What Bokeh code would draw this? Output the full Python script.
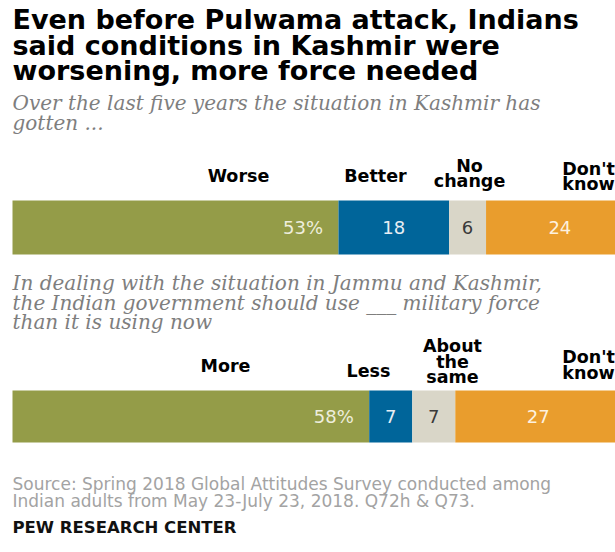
from bokeh.plotting import figure
from bokeh.models import Range1d, Label, ColumnDataSource
from bokeh.core.properties import value
from bokeh.embed import file_html
from bokeh.resources import INLINE

# ---------------- data ----------------
categories_q1 = ["Worse", "Better", "No change", "Don't know"]
values_q1 = [53, 18, 6, 24]
value_labels_q1 = ["53%", "18", "6", "24"]

categories_q2 = ["More", "Less", "About the same", "Don't know"]
values_q2 = [58, 7, 7, 27]
value_labels_q2 = ["58%", "7", "7", "27"]

title_lines = ["Even before Pulwama attack, Indians",
               "said conditions in Kashmir were",
               "worsening, more force needed"]
subtitle_q1 = ["Over the last five years the situation in Kashmir has",
               "gotten ..."]
subtitle_q2 = ["In dealing with the situation in Jammu and Kashmir,",
               "the Indian government should use ___ military force",
               "than it is using now"]
source_lines = ["Source: Spring 2018 Global Attitudes Survey conducted among",
                "Indian adults from May 23-July 23, 2018. Q72h & Q73."]
brand = "PEW RESEARCH CENTER"

# ---------------- layout / style ----------------
W, H = 615, 552
OFFSET = 0          # page offset of the figure
PX_PER_PCT = 6.15
X0 = 12 - OFFSET    # screen px of 0%

seg_colors = ["#949c48", "#00659a", "#d9d6c8", "#e99d2d"]
val_colors = ["#eeeedd", "#e8eef4", "#3a3a3a", "#fdf1df"]

p = figure(width=W, height=H, output_backend="svg", toolbar_location=None,
           x_range=Range1d(-X0 / PX_PER_PCT, (W - X0) / PX_PER_PCT),
           y_range=Range1d(H, 0), min_border=0,
           x_axis_location=None, y_axis_location=None)
p.grid.visible = False
p.outline_line_color = None
p.background_fill_color = "white"
p.border_fill_color = "white"


def py(page_y):
    return page_y - OFFSET


def add_text(txt, page_x, page_y, size, color="#000000", font="DejaVu Sans",
             style="normal", align="left"):
    fs = float(size.replace("px", ""))
    p.add_layout(Label(x=page_x - OFFSET, y=py(page_y - 0.36 * fs),
                       x_units="screen", y_units="data",
                       text=txt, text_font=font, text_font_size=size,
                       text_font_style=style, text_color=color,
                       text_align=align, text_baseline="alphabetic"))


# title
for i, line in enumerate(title_lines):
    add_text(line, 12, 29 + 25.5 * i, "27px", "#000000", "DejaVu Sans", "bold")

# subtitles
for i, line in enumerate(subtitle_q1):
    add_text(line, 12, 110 + 20 * i, "20px", "#7e7e7e", "DejaVu Serif", "italic")
for i, line in enumerate(subtitle_q2):
    add_text(line, 12, 290 + 19.5 * i, "20px", "#7e7e7e", "DejaVu Serif", "italic")

# category labels (center x, baselines) for each bar
cat_pos_q1 = [(238, [182]), (375, [182]), (469, [172, 186.5]), (588, [175, 189.5])]
cat_lines_q1 = [["Worse"], ["Better"], ["No", "change"], ["Don't", "know"]]
cat_pos_q2 = [(225, [372]), (368, [377]), (452, [352, 367.5, 383]), (588, [363, 378.5])]
cat_lines_q2 = [["More"], ["Less"], ["About", "the", "same"], ["Don't", "know"]]

for pos, lines in list(zip(cat_pos_q1, cat_lines_q1)) + list(zip(cat_pos_q2, cat_lines_q2)):
    cx, ys = pos
    for ln, yy in zip(lines, ys):
        add_text(ln, cx, yy, "17.5px", "#000000", "DejaVu Sans", "bold", "center")


def draw_bar(values, labels, page_top, page_bottom):
    lefts, rights = [], []
    acc = 0
    for v in values:
        lefts.append(acc)
        acc += v
        rights.append(acc)
    yc = py((page_top + page_bottom) / 2)
    hgt = page_bottom - page_top
    src = ColumnDataSource(dict(left=lefts, right=rights, y=[yc] * len(values),
                                color=seg_colors))
    p.hbar(y="y", left="left", right="right", height=hgt, fill_color="color",
           line_color=None, source=src)
    # first value: right aligned inside the segment
    first = ColumnDataSource(dict(x=[rights[0] - 2.5], y=[yc], t=[labels[0]],
                                  c=[val_colors[0]]))
    p.text(x="x", y="y", text="t", text_color="c", source=first,
           text_font=value("DejaVu Sans"), text_font_size="18px",
           text_align="right", text_baseline="middle")
    rest = ColumnDataSource(dict(x=[(l + r) / 2 for l, r in zip(lefts[1:], rights[1:])],
                                 y=[yc] * (len(values) - 1), t=labels[1:],
                                 c=val_colors[1:]))
    p.text(x="x", y="y", text="t", text_color="c", source=rest,
           text_font=value("DejaVu Sans"), text_font_size="18px",
           text_align="center", text_baseline="middle")


draw_bar(values_q1, value_labels_q1, 200, 254)
draw_bar(values_q2, value_labels_q2, 390, 442)

# source & brand
for i, line in enumerate(source_lines):
    add_text(line, 12, 490 + 17 * i, "17px", "#a3a3a3", "DejaVu Sans")
add_text(brand, 12, 533, "16.5px", "#111111", "DejaVu Sans", "bold")

open("out.html", "w").write(file_html(p, INLINE))
